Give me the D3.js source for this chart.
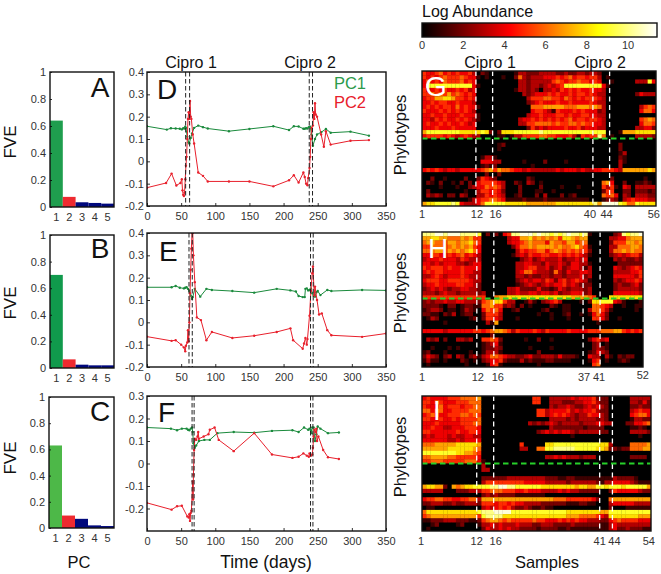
<!DOCTYPE html>
<html><head><meta charset="utf-8">
<script src="https://cdn.jsdelivr.net/npm/d3@7"></script>
<style>
html,body{margin:0;padding:0;background:#fff}
svg{display:block}
text{font-family:"Liberation Sans",Arial,sans-serif}
.heat{filter:blur(0.6px)}
</style></head><body>
<svg id="c" width="661" height="574"></svg>
<script>
// ---------- data ----------
const pcCategories=[1,2,3,4,5];
const fveA=[0.64,0.075,0.035,0.03,0.025];
const fveB=[0.70,0.065,0.025,0.02,0.02];
const fveC=[0.63,0.095,0.07,0.02,0.015];

const tD1=[0,29,35,42,48,51,53,55,56,57,59,61,62,64,66,69,75,82,89,120,150,185,208,215,222,229,231,233,235,237,239,241,243,246,249,255,262,269,298,325];
const pc1D=[.157,.142,.148,.147,.146,.143,.148,.147,.155,.15,.11,.085,.08,.105,.125,.15,.16,.153,.147,.135,.145,.157,.14,.157,.156,.146,.146,.148,.147,.153,.155,.12,.07,.1,.12,.13,.145,.128,.133,.115];
const tD2=[0,28,36,43,49,51,52,53,54,55,56,57,58,59,60,61,62,63,64,65,67,69,75,82,89,120,150,185,208,215,222,229,231,233,235,236,238,239,240,241,243,244,245,246,247,249,255,259,262,269,298,325];
const pc2D=[-.118,-.097,-.055,-.108,-.097,-.08,-.13,-.15,-.155,-.14,-.08,-.02,.02,.1,.19,.22,.19,.27,.2,.19,.12,.08,-.05,-.065,-.09,-.09,-.09,-.112,-.085,-.062,-.095,-.05,-.07,-.1,-.107,-.075,-.03,.02,.1,.15,.16,.22,.19,.26,.21,.2,.12,.065,.135,.075,.092,.095];

const tE1=[0,36,42,48,54,56,58,60,62,64,66,67,70,78,87,95,125,157,190,210,218,222,228,231,232,234,236,238,240,242,244,246,248,250,254,264,270,315,350];
const pc1E=[.157,.157,.163,.155,.152,.155,.157,.15,.14,.12,.105,.113,.15,.115,.15,.145,.14,.133,.15,.143,.138,.118,.113,.113,.15,.152,.143,.145,.152,.13,.12,.115,.135,.14,.122,.145,.14,.145,.143];
const tE2=[0,36,42,50,54,56,57,59,60,61,62,63,64,65,66,67,68,70,73,79,87,95,125,157,190,210,214,228,230,232,234,235,238,240,242,243,245,246,249,252,256,264,270,315,350];
const pc2E=[-.064,-.083,-.08,-.1,-.112,-.13,-.105,-.09,-.035,-.085,0,.13,.235,.33,.4,.4,.3,.18,.022,.01,-.08,-.043,-.07,-.06,-.043,-.027,-.08,-.118,-.095,-.07,-.1,-.075,.03,.14,.22,.25,.12,.16,.1,.035,.04,-.035,-.058,-.065,-.05];

const tF1=[0,35,44,51,58,60,62,64,66,67,68,70,72,76,84,92,103,127,157,183,213,222,230,236,238,240,241,242,244,246,248,250,254,265,281];
const pc1F=[.16,.155,.148,.155,.155,.15,.148,.155,.16,.14,.09,.07,.08,.1,.105,.105,.135,.14,.137,.145,.148,.14,.16,.15,.155,.148,.135,.16,.16,.1,.13,.165,.155,.135,.138];
const tF2=[0,36,44,51,59,61,62,63,64,65,67,67.5,68,69,70,72,74,75,76,83,90,92,99,105,127,157,183,213,222,229,234,237,238,240,242,243,244,245,247,248,249,251,258,265,281];
const pc2F=[-.175,-.205,-.19,-.188,-.235,-.24,-.225,-.255,-.22,-.21,-.08,-.16,-.05,.06,.11,.105,.12,.14,.11,.12,.13,.15,.16,.105,.055,.135,.04,.025,.03,.045,.035,.03,.045,.035,.04,.07,.12,.15,.14,.155,.1,.12,.06,.028,.02];

const ciproD=[56.6,62.4,237.6,242.4];
const ciproE=[61.5,66.3,239.5,243.4];
const ciproF=[66,69,239.5,243];

const timeTicks=[0,50,100,150,200,250,300,350];
const fveTicks=[0,0.2,0.4,0.6,0.8,1];
const pcTicksDE=[-0.2,-0.1,0,0.1,0.2,0.3,0.4];
const pcTicksF=[-0.2,-0.1,0,0.1,0.2,0.3];
const cbarTicks=[0,2,4,6,8,10];

// log abundance, one hex-ish digit per sample (0..b), one string per phylotype
const heatG=[
"5445645454453 02100000 0133222333 322322332332 00000000 00000",
"5454565556544 10100010 0263233344 454564554553 01000000 00000",
"4645465556454 00000000 0033233333 565455655454 00100000 33394",
"4999999999994 10000000 0033233234 345999999999 41000000 00000",
"5445454454534 00000000 0133232033 435454544544 30000000 00000",
"5565657565454 00000000 0003234445 454454554543 30000000 24333",
"4557788755454 00000000 0000355566 554654545554 30000000 00000",
"4454554454443 00000000 0000234544 454454444543 30000000 00000",
"4545455464544 10000000 0000066677 777666777676 30000000 03565",
"5444545454543 00000000 0000045543 154445454442 30000000 04664",
"4454454445444 10000000 0000344544 455454455443 30000000 00000",
"4435454454543 10000000 0034454545 454564554554 30000000 05676",
"4544545445434 00000000 0033556666 565566565544 30000000 04665",
"4445444544444 00000000 0000253434 444544534443 30000000 33442",
"7999999998888 89820288 8999999a99 999999999999 90001777 88888",
"4555545434543 30000110 1335555665 54445315455a 60100000 33332",
"0000000000000 00000000 0000000000 000000000000 00000000 00000",
"0000000000000 00000120 0000000000 000000000000 00002000 00000",
"0000000000000 00000100 0000000000 000000000000 00002000 00000",
"0000000000000 00000000 0000000000 000000000000 00001300 00000",
"0000000000000 01331000 0000000000 000000000000 00002100 00000",
"0000000000000 04443300 0001000020 000100000000 00003100 00000",
"0000000000000 01212000 0000010000 000000000000 00003000 00000",
"4545434434444 45675766 5443433333 343444343344 55543777 77787",
"0000000000000 00200200 0000000000 000000000000 00000000 00000",
"0020010000200 25432000 0000210000 000000000000 00200000 00100",
"0210200102020 45555430 0210320100 000000000000 67400200 11210",
"0000100010023 44656530 0020000200 001000100000 53510430 33333",
"0200000000100 35545420 0020001100 100000000000 25500220 22212",
"0323202203200 33545430 0120002030 002012000000 65640320 33322",
"0000000000013 45566541 1112111121 111111111000 12320345 44433",
"7889999a94333 46999998 8888777777 7888888888a7 bbbb9866 98888"];

const heatH=[
"aaabbabbbaaaa9 02020 45aabbbabaa9a9abaa9a 1000 0023a9aab",
"77887766676755 00000 03447786767675887677 0000 033446777",
"67766577677865 00000 03445676664766577566 0000 025557767",
"55666567676754 00000 00246676777767667865 1000 033666776",
"66677576767864 00000 00035455664676565655 2000 036676766",
"44554454564543 00000 00134354455445454543 1000 023434553",
"34445444354333 00000 00002342343334233434 0000 003232232",
"44343444332344 00000 00033443324334324433 1000 000222222",
"54555454454444 00000 00033455334234234431 3000 004323454",
"45455444454433 00000 00034664333263243344 3000 003333445",
"33454344454333 00000 00033232233233233342 3000 004444435",
"45554455555433 00000 00023434435424534543 1000 003234454",
"34454444554432 00000 00012343234344534322 2000 002322342",
"23434323344332 00000 03342222422124323332 3000 002333332",
"33323433233332 30000 03343344344342334442 3000 004444443",
"55555555555555 50067 78888888888888887777 6500 088888888",
"23233433443332 56788 53300131023453000010 2889 994310001",
"22221022012211 66755 23202010000210110000 0665 430010011",
"12332011013210 46564 00120000012000110000 3665 310000010",
"22110213012200 25553 00000000100100120010 1464 200000000",
"01320000000120 25543 00010000000100010000 0554 200100000",
"00000100000000 03170 00000000000000000000 0010 000000000",
"00000000000000 00000 00000000000000000000 0000 000000000",
"44444344444455 45677 65354445435444454444 5556 667754545",
"00000000000000 00200 00000000000000000000 0000 000000000",
"03230200332300 55652 00000100200100000000 2453 400000000",
"00000000000000 12341 00000000000000000000 0230 100000000",
"00100010100000 12232 00000010000100000000 0232 100000000",
"12000100000100 13331 00000000200000000000 1243 200000000",
"24320230320231 34665 43322342233324222100 4330 310212200",
"13110100021010 23445 21113121112211110000 1450 100121000",
"01000000001000 01451 00000000100000000000 0560 000000000"];

const heatI=[
"45444455566667 00000000000 0550 033333434445222 0000 033333",
"55465444555666 00000000000 0550 033322233445322 0000 033242",
"54446455545566 00000000000 0000 032334322343432 0000 022322",
"66466445555666 00000000000 0055 344445343445322 0000 034544",
"45654455566565 00000000000 0055 345454323354432 0000 045664",
"55445445455556 00000000000 0000 033332323333232 0000 013322",
"44454444455566 00000000000 3232 343233332333443 3000 224456",
"44544334445554 00000000000 0000 032222222122220 0000 011210",
"55444444544554 00000000000 0023 434344323333322 0000 033332",
"34344434334433 00000000000 0000 000000100000000 0000 000100",
"44444433434444 00000000000 0000 000000000000000 0000 000000",
"66677777888887 00000000050 0000 889999999999988 3000 066667",
"77777788888876 00000000033 0066 99aaaaa99999887 2212 266677",
"99999999887765 00000000000 0000 000000000000000 0000 000000",
"66777766555554 00000000000 0000 334343332333000 0000 022220",
"55666555556664 10000000000 0000 000000000000000 0000 000000",
"00000000000000 30000000000 0000 000000000000000 0000 000000",
"00000000000000 33000000000 0000 000000000000000 0000 000000",
"00000000000000 00000000000 0000 000000000000000 0000 000000",
"00000000000000 22222233333 3333 222112211111111 1322 221000",
"00000000000000 35555555554 4444 333332333333213 3444 432111",
"78877207678899 99aabbaa999 9998 888888878877998 9998 999997",
"33333000222333 55666555445 4443 333434332222200 2544 444322",
"00000000000000 23232222111 1111 000000000000000 0000 000000",
"45566554455663 77777777777 7777 776665555554200 6777 777777",
"22333223223332 55545545443 3332 222221112211000 3444 443333",
"01100000000000 34345453223 2112 110000000000000 2000 111111",
"68888888888889 aaabbbb9999 9999 999998888888877 9999 999999",
"56777777777775 9aaaa888888 8888 888887776666543 8888 888777",
"11222333222112 56776565555 5655 444545454433322 4565 555444",
"00120000120001 33434333433 3223 332222322222211 3433 333333",
"01000000000000 24334343322 2212 222112111111111 3422 322211"];

const samplesG=56, samplesH=52, samplesI=54;
const dashG=[12,16,40,44], dashH=[12,16,37,41], dashI=[12,16,41,44];
const labelsG=[1,12,16,40,44,56], labelsH=[1,12,16,37,41,52], labelsI=[1,12,16,41,44,54];

// ---------- drawing ----------
const svg=d3.select("#c");
const INK="#333";
const GREEN="#1a8a3c", RED="#e8202c";
const fmt=d=>d===0?"0":String(d);

function text(x,y,s,size,opt={}){
  const t=svg.append("text").attr("x",x).attr("y",y).text(s).attr("font-size",size)
    .attr("fill",opt.fill||"#111").attr("text-anchor",opt.anchor||"start");
  if(opt.rot) t.attr("transform",`rotate(-90 ${x} ${y})`);
  return t;
}
function styleAxis(g){
  g.select(".domain").remove();
  g.selectAll(".tick line").attr("stroke","#000").attr("stroke-width",0.8);
  g.selectAll("text").attr("fill",INK).attr("font-size",11).style("font-family",'"Liberation Sans",Arial,sans-serif');
}
function frame(x0,y0,x1,y1){
  svg.append("rect").attr("x",x0).attr("y",y0).attr("width",x1-x0).attr("height",y1-y0)
    .attr("fill","none").attr("stroke","#111").attr("stroke-width",1.4);
}

function bars(vals,p,barColor1){
  const x=d3.scaleBand().domain(pcCategories).range([p.x0,p.x1]).paddingInner(0).paddingOuter(0);
  const y=d3.scaleLinear().domain([0,1]).range([p.y1,p.y0]);
  const colors=[barColor1,"#ee2a30","#00087c","#00087c","#00087c"];
  svg.append("g").selectAll("rect").data(vals).join("rect")
    .attr("x",(d,i)=>x(pcCategories[i])).attr("width",x.bandwidth())
    .attr("y",d=>y(d)).attr("height",d=>y(0)-y(d)).attr("fill",(d,i)=>colors[i]);
  svg.append("g").attr("transform",`translate(${p.x0},0)`)
    .call(d3.axisLeft(y).tickValues(fveTicks).tickFormat(fmt).tickSize(-2).tickPadding(4)).call(styleAxis);
  svg.append("g").attr("transform",`translate(0,${p.y1})`)
    .call(d3.axisBottom(x).tickSize(0).tickPadding(6)).call(styleAxis);
  frame(p.x0,p.y0,p.x1,p.y1);
}
bars(fveA,{x0:50,x1:114,y0:72,y1:207},"#1f9e4e");
bars(fveB,{x0:50,x1:114,y0:235,y1:368},"#109a4c");
bars(fveC,{x0:49,x1:114,y0:397,y1:528},"#4db848");

function lines(p,t1,v1,t2,v2,dashes,yTicks){
  const x=d3.scaleLinear().domain([0,350]).range([147,386]);
  const y=d3.scaleLinear().domain(p.dom).range([p.y1,p.y0]);
  svg.append("g").attr("transform",`translate(147,0)`)
    .call(d3.axisLeft(y).tickValues(yTicks).tickFormat(fmt).tickSize(-3).tickPadding(3)).call(styleAxis);
  svg.append("g").attr("transform",`translate(0,${p.y1})`)
    .call(d3.axisBottom(x).tickValues(timeTicks).tickFormat(fmt).tickSize(-3).tickPadding(6)).call(styleAxis);
  const clip="clip"+p.y0;
  svg.append("clipPath").attr("id",clip).append("rect").attr("x",147).attr("y",p.y0).attr("width",239).attr("height",p.y1-p.y0);
  const g=svg.append("g").attr("clip-path",`url(#${clip})`);
  [[t1,v1,GREEN],[t2,v2,RED]].forEach(([ts,vs,c])=>{
    const pts=ts.map((d,i)=>[x(d),y(vs[i])]);
    g.append("path").attr("d",d3.line()(pts)).attr("fill","none").attr("stroke",c).attr("stroke-width",1);
    g.append("g").selectAll("circle").data(pts).join("circle")
      .attr("cx",d=>d[0]).attr("cy",d=>d[1]).attr("r",1.2).attr("fill",c);
  });
  svg.append("g").selectAll("line").data(dashes).join("line")
    .attr("x1",d=>x(d)).attr("x2",d=>x(d)).attr("y1",p.y0).attr("y2",p.y1)
    .attr("stroke","#222").attr("stroke-width",1).attr("stroke-dasharray","4.5,2.5");
  frame(147,p.y0,386,p.y1);
}
lines({y0:72,y1:206,dom:[-0.2,0.4]},tD1,pc1D,tD2,pc2D,ciproD,pcTicksDE);
lines({y0:233,y1:367,dom:[-0.2,0.4]},tE1,pc1E,tE2,pc2E,ciproE,pcTicksDE);
lines({y0:396,y1:531,dom:[-0.3,0.3]},tF1,pc1F,tF2,pc2F,ciproF,pcTicksF);

const hot=d3.scaleLinear().domain([0,4.28,8.55,11.4]).range(["#000","#ff0000","#ffff00","#ffffff"]).clamp(true);

function heat(rows,n,p,dashes,labels,dx){
  const parsed=rows.map(r=>Array.from(r.replace(/ /g,"")).map(c=>parseInt(c,16)));
  const x=d3.scaleBand().domain(d3.range(n)).range([422,p.x1]);
  const y=d3.scaleBand().domain(d3.range(parsed.length)).range([p.y0,p.y1]);
  svg.append("rect").attr("x",422).attr("y",p.y0).attr("width",p.x1-422).attr("height",p.y1-p.y0).attr("fill","#000");
  const clip="hc"+p.y0;
  svg.append("clipPath").attr("id",clip).append("rect").attr("x",422).attr("y",p.y0).attr("width",p.x1-422).attr("height",p.y1-p.y0);
  const g=svg.append("g").attr("clip-path",`url(#${clip})`).append("g").attr("class","heat");
  parsed.forEach((row,ri)=>{
    g.append("g").selectAll("rect").data(row).join("rect")
      .attr("x",(d,i)=>x(i)).attr("y",y(ri)).attr("width",x.bandwidth()+0.3).attr("height",y.bandwidth()+0.3)
      .attr("fill",d=>hot(d));
  });
  const sx=s=>422+(s+0.9)*x.bandwidth();
  svg.append("g").selectAll("line").data(dashes).join("line")
    .attr("x1",sx).attr("x2",sx).attr("y1",p.y0).attr("y2",p.y1)
    .attr("stroke","#fff").attr("stroke-width",1.3).attr("stroke-dasharray","5,3.5");
  const gy=p.y0+y.bandwidth()*16-(p.gShift||0);
  svg.append("line").attr("x1",422).attr("x2",p.x1).attr("y1",gy).attr("y2",gy)
    .attr("stroke","#27d02a").attr("stroke-width",1.8).attr("stroke-dasharray","5.5,3.5");
  frame(422,p.y0,p.x1,p.y1);
  svg.append("g").selectAll("text").data(labels).join("text")
    .attr("x",(d,i)=>(d===1?422:sx(d))+dx[i]).attr("y",(d,i)=>p.labY+(p.labDy?p.labDy[i]:0))
    .attr("text-anchor","middle").attr("font-size",11).attr("fill",INK).text(d=>d);
}
heat(heatG,samplesG,{x1:656,y0:71,y1:206,labY:218},dashG,labelsG,[0,1,3,-3,-3,-6]);
heat(heatH,samplesH,{x1:643,y0:232,y1:367,labY:381,gShift:1,labDy:[0,0,0,0,0,-2]},dashH,labelsH,[0,1,4,1,-1,-4]);
heat(heatI,samplesI,{x1:651,y0:396,y1:531,labY:545},dashI,labelsI,[-1,0,2,0,2,-6]);

// colour bar
const cx=d3.scaleLinear().domain([0,11.4]).range([422,657]);
const grad=svg.append("defs").append("linearGradient").attr("id","hotg");
hot.domain().forEach(v=>grad.append("stop").attr("offset",v/11.4).attr("stop-color",hot(v)));
svg.append("rect").attr("x",422).attr("y",23).attr("width",235).attr("height",14).attr("fill","url(#hotg)");
frame(422,23,657,37);
svg.append("g").selectAll("text").data(cbarTicks).join("text")
  .attr("x",d=>cx(d)).attr("y",49).attr("text-anchor","middle").attr("font-size",11).attr("fill",INK).text(d=>d);

// titles and letters
text(422,17,"Log Abundance",16);
[[191,68],[310,68],[490,68],[600,68]].forEach((a,i)=>text(a[0],a[1],i%2?"Cipro 2":"Cipro 1",16,{anchor:"middle"}));
text(366,89,"PC1",16.5,{fill:"#2b9a4a",anchor:"end"});
text(366,108,"PC2",16.5,{fill:"#e8202c",anchor:"end"});
[["A",100,97],["B",100,258],["C",100,421]].forEach(a=>text(a[1],a[2],a[0],28,{anchor:"middle"}));
[["D",157,99],["E",159,261],["F",158,422]].forEach(a=>text(a[1],a[2],a[0],28));
[["G",425,96],["H",428,258]].forEach(a=>text(a[1],a[2],a[0],28,{fill:"#fff"}));
text(437,420,"I",28,{fill:"#fff",anchor:"middle"});
[142,303,458].forEach(y=>text(16,y,"FVE",17,{anchor:"middle",rot:true}));
[135,293,457].forEach(y=>text(406,y,"Phylotypes",16.5,{anchor:"middle",rot:true}));
text(79,568,"PC",16.5,{anchor:"middle"});
text(266,568,"Time (days)",17.5,{anchor:"middle"});
text(547,568,"Samples",16.5,{anchor:"middle"});
</script>
</body></html>
